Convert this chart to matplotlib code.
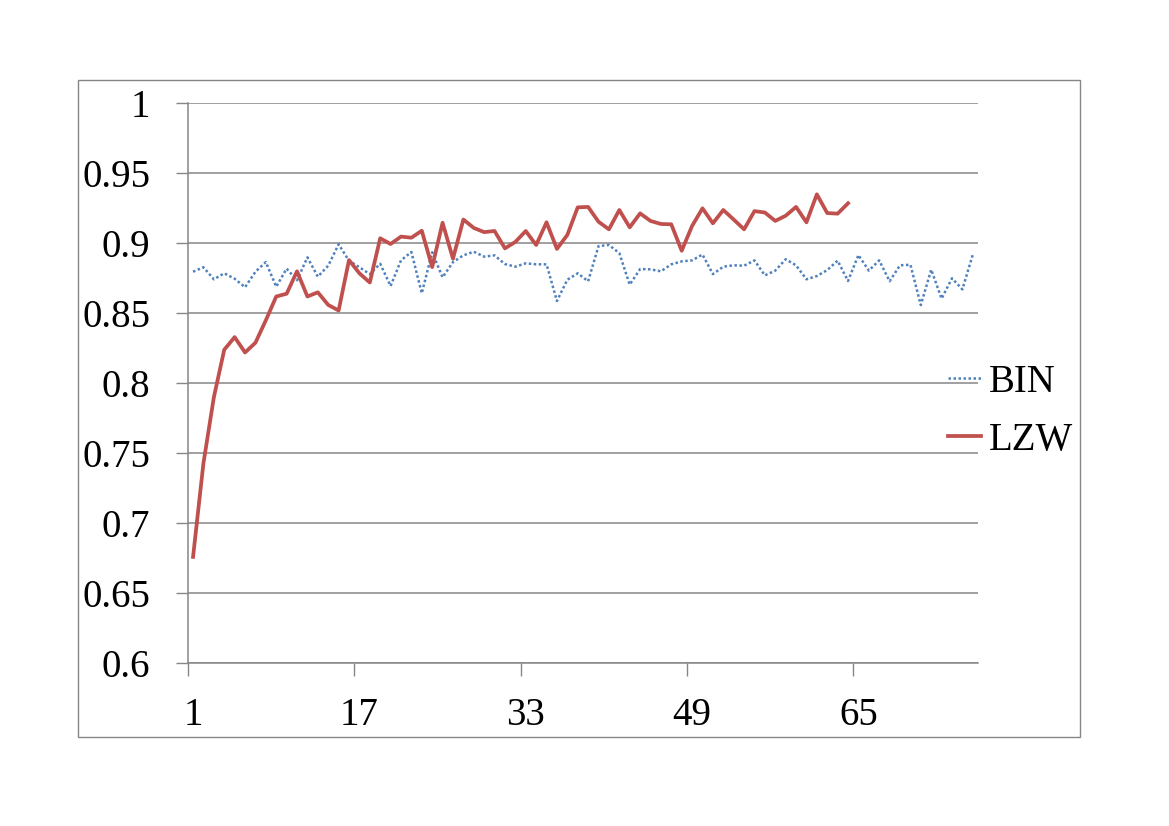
import matplotlib
matplotlib.use("Agg")
import matplotlib.pyplot as plt
from matplotlib.patches import Rectangle

# series values
bin_vals = [0.8797, 0.8829, 0.8743, 0.8786, 0.8747, 0.8686, 0.8797, 0.8866, 0.8690, 0.8819,
            0.8736, 0.8900, 0.8762, 0.8840, 0.8993, 0.8876, 0.8829, 0.8780, 0.8854, 0.8695,
            0.8878, 0.8938, 0.8643, 0.8936, 0.8757, 0.8866, 0.8914, 0.8940, 0.8905, 0.8914,
            0.8852, 0.8833, 0.8857, 0.8850, 0.8850, 0.8588, 0.8740, 0.8786, 0.8729, 0.8980,
            0.8988, 0.8930, 0.8705, 0.8816, 0.8814, 0.8800, 0.8850, 0.8871, 0.8878, 0.8920,
            0.8780, 0.8833, 0.8843, 0.8840, 0.8878, 0.8771, 0.8805, 0.8886, 0.8843, 0.8743,
            0.8766, 0.8809, 0.8876, 0.8731, 0.8916, 0.8805, 0.8878, 0.8729, 0.8843, 0.8847,
            0.8559, 0.8812, 0.8605, 0.8750, 0.8671, 0.8919]
lzw_vals = [0.676, 0.743, 0.790, 0.824, 0.833, 0.822, 0.829, 0.845, 0.862, 0.864,
            0.880, 0.862, 0.865, 0.856, 0.852, 0.888, 0.8786, 0.872, 0.9036, 0.8995,
            0.9048, 0.904, 0.909, 0.883, 0.9147, 0.889, 0.917, 0.911, 0.908, 0.9088,
            0.8964, 0.901, 0.9088, 0.8988, 0.915, 0.896, 0.906, 0.9257, 0.926, 0.9154,
            0.910, 0.9238, 0.9114, 0.9214, 0.916, 0.9138, 0.9136, 0.8947, 0.9124, 0.925,
            0.9143, 0.9238, 0.917, 0.910, 0.923, 0.922, 0.916, 0.9197, 0.926, 0.915,
            0.935, 0.9216, 0.9212, 0.9286]
x_labels = [1, 17, 33, 49, 65]
y_ticks = [0.6, 0.65, 0.7, 0.75, 0.8, 0.85, 0.9, 0.95, 1.0]
y_labels = ["0.6", "0.65", "0.7", "0.75", "0.8", "0.85", "0.9", "0.95", "1"]

plt.rcParams['font.family'] = ['Liberation Serif', 'DejaVu Serif']
grey = "#868686"

fig = plt.figure(figsize=(11.69, 8.26), dpi=100)
ax = fig.add_axes([0.1607, 0.197, 0.6759, 0.6779])

# outer chart border
fig.patches.append(Rectangle((78 / 1169, 1 - 737 / 826), 1002 / 1169, 657 / 826,
                             transform=fig.transFigure, fill=False, edgecolor=grey, lw=1))

x_bin = range(1, len(bin_vals) + 1)
x_lzw = range(1, len(lzw_vals) + 1)
ax.plot(x_bin, bin_vals, color="#4F81BD", lw=1.8, linestyle=(0, (1, 1)), label="BIN")
ax.plot(x_lzw, lzw_vals, color="#C0504D", lw=2.7, label="LZW")

ax.set_xlim(0.5, len(bin_vals) + 0.5)
ax.set_ylim(0.6, 1.0)
ax.set_yticks(y_ticks)
ax.set_yticklabels(y_labels)
ax.yaxis.grid(True, color=grey, lw=1.1)
ax.set_axisbelow(True)

# tick marks between categories, labels under categories
ax.set_xticks([v - 0.5 for v in x_labels])
ax.set_xticklabels([])
ax.set_xticks(x_labels, minor=True)
ax.set_xticklabels([str(v) for v in x_labels], minor=True)
ax.tick_params(axis="x", which="major", length=9, width=1, color=grey, direction="out")
ax.tick_params(axis="x", which="minor", length=0, pad=24, labelsize=28)
ax.tick_params(axis="y", length=9, width=1, color=grey, pad=18, labelsize=28)

for s in ["top", "right"]:
    ax.spines[s].set_visible(False)
for s in ["left", "bottom"]:
    ax.spines[s].set_color(grey)
    ax.spines[s].set_linewidth(1.1)

ax.legend(loc="center left", bbox_to_anchor=(0.962, 0.45), frameon=False, fontsize=28,
          handlelength=0.85, handletextpad=0.2, labelspacing=0.55,
          borderpad=0, borderaxespad=0)

fig.savefig("out.png", dpi=100)
